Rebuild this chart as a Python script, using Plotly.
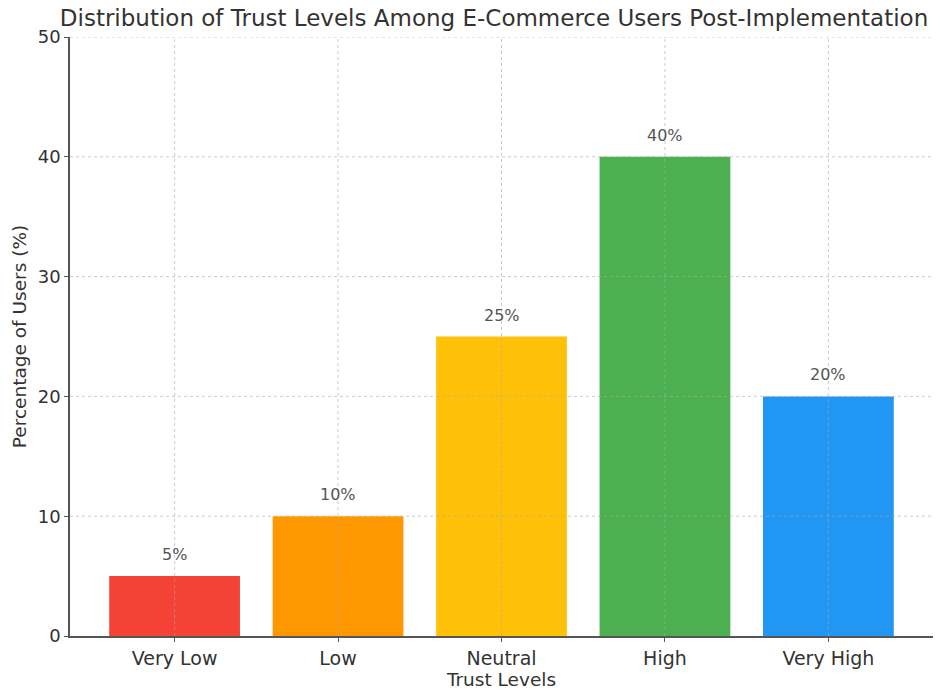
import plotly.graph_objects as go

categories = ["Very Low", "Low", "Neutral", "High", "Very High"]
percentages = [5, 10, 25, 40, 20]
bar_colors = ["#F44336", "#FF9800", "#FFC107", "#4CAF50", "#2196F3"]
y_ticks = [0, 10, 20, 30, 40, 50]

FONT = "DejaVu Sans"
TXT = "#333333"

fig = go.Figure()
fig.add_trace(go.Bar(
    x=list(range(len(categories))),
    y=percentages,
    marker=dict(color=bar_colors, line=dict(width=0)),
    width=0.8,
    hoverinfo="skip",
))

# value labels above the bars
for i, v in enumerate(percentages):
    fig.add_annotation(x=i, y=v, text=f"{v}%", showarrow=False,
                       yanchor="bottom", yshift=10,
                       font=dict(family=FONT, size=16, color="#555555"))

# fine dashed grid drawn above the bars (as in the reference)
grid_style = dict(color="rgba(170,170,170,0.6)", width=1, dash="3px,3px")
for t in y_ticks[1:]:
    fig.add_shape(type="line", xref="paper", x0=0, x1=1, yref="y", y0=t, y1=t,
                  line=grid_style, layer="above")
for i in range(len(categories)):
    fig.add_shape(type="line", xref="x", x0=i, x1=i, yref="paper", y0=0, y1=1,
                  line=grid_style, layer="above")

fig.update_layout(
    width=941, height=691,
    margin=dict(l=70, r=8, t=37, b=53),
    paper_bgcolor="white", plot_bgcolor="white",
    showlegend=False,
    title=dict(text="Distribution of Trust Levels Among E-Commerce Users Post-Implementation",
               x=0.525, xanchor="center", y=0.974, yanchor="middle",
               font=dict(family=FONT, size=23, color=TXT)),
    font=dict(family=FONT, color=TXT),
)
fig.update_xaxes(
    range=[-0.64, 4.64],
    tickmode="array", tickvals=list(range(len(categories))), ticktext=categories,
    tickfont=dict(family=FONT, size=19, color=TXT),
    showgrid=False, zeroline=False,
    showline=True, linecolor="#555555", linewidth=1.5,
    ticks="outside", ticklen=4, tickcolor="#555555",
    title=dict(text="Trust Levels", font=dict(family=FONT, size=18.5, color=TXT), standoff=2),
)
fig.update_yaxes(
    range=[0, 50],
    tickmode="array", tickvals=y_ticks,
    tickfont=dict(family=FONT, size=18, color=TXT),
    showgrid=False, zeroline=False,
    showline=True, linecolor="#555555", linewidth=1.5,
    ticks="outside", ticklen=4, tickcolor="#555555",
    title=dict(text="Percentage of Users (%)", font=dict(family=FONT, size=18.5, color=TXT), standoff=6),
)

fig.write_html("out.html")
